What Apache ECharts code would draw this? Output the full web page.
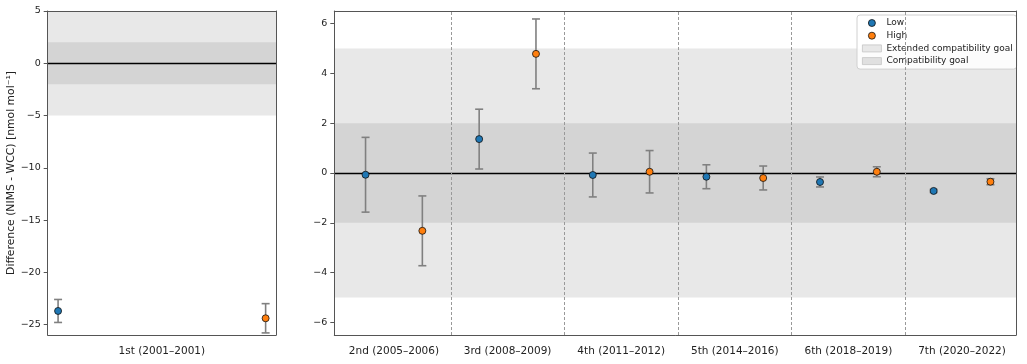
<!DOCTYPE html>
<html>
<head>
<meta charset="utf-8">
<script src="https://cdn.jsdelivr.net/npm/echarts@6/dist/echarts.min.js"></script>
<style>html,body{margin:0;padding:0;background:#fff}#c{width:1027px;height:364px}</style>
</head>
<body>
<div id="c"></div>
<script>
// ---- data ----
const categoriesLeft = ['1st (2001–2001)'];
const categoriesRight = ['2nd (2005–2006)', '3rd (2008–2009)', '4th (2011–2012)', '5th (2014–2016)', '6th (2018–2019)', '7th (2020–2022)'];
const lowLeft = [-23.7];
const lowLeftErr = [1.1];
const highLeft = [-24.4];
const highLeftErr = [1.4];
const lowRight = [-0.07, 1.36, -0.08, -0.15, -0.36, -0.72];
const lowRightErr = [1.5, 1.2, 0.88, 0.48, 0.2, 0.06];
const highRight = [-2.32, 4.78, 0.05, -0.2, 0.05, -0.35];
const highRightErr = [1.4, 1.4, 0.85, 0.48, 0.2, 0.12];
const leftTicks = [-25, -20, -15, -10, -5, 0, 5];
const rightTicks = [-6, -4, -2, 0, 2, 4, 6];
const extendedGoal = [-5, 5];
const compatGoal = [-2, 2];

const FONT = 'DejaVu Sans';
const LOW_C = '#1f77b4', HIGH_C = '#ff7f0e';
const OFF = 0.25;
const fmtNum = v => String(v).replace('-', '\u2212');

function pts(vals, sign) { return vals.map((v, i) => [i + sign * OFF, v]); }
function errPts(vals, errs, sign) { return vals.map((v, i) => [i + sign * OFF, v, errs[i]]); }

function errRender(params, api) {
  const x = api.value(0), y = api.value(1), e = api.value(2);
  const t = api.coord([x, y + e]), b = api.coord([x, y - e]);
  const hw = 4, st = { stroke: '#808080', lineWidth: 1.6 };
  return { type: 'group', children: [
    { type: 'line', shape: { x1: t[0], y1: t[1], x2: b[0], y2: b[1] }, style: st },
    { type: 'line', shape: { x1: t[0] - hw, y1: t[1], x2: t[0] + hw, y2: t[1] }, style: st },
    { type: 'line', shape: { x1: b[0] - hw, y1: b[1], x2: b[0] + hw, y2: b[1] }, style: st }
  ]};
}

function bandSeries(name, band, color, idx, z) {
  return { name: name, type: 'line', xAxisIndex: idx, yAxisIndex: idx, data: [], silent: true, z: z,
    itemStyle: { color: color },
    markArea: { silent: true, itemStyle: { color: color }, data: [[{ yAxis: band[0] }, { yAxis: band[1] }]] } };
}

function zeroLine(idx, seps) {
  const d = [{ yAxis: 0, lineStyle: { color: '#000', width: 1.4, type: 'solid' } }];
  seps.forEach(s => d.push({ xAxis: s, lineStyle: { color: '#999', width: 1, type: [3, 2] } }));
  return { type: 'line', xAxisIndex: idx, yAxisIndex: idx, data: [], silent: true, z: 3,
    markLine: { silent: true, symbol: 'none', label: { show: false }, data: d } };
}

const separators = categoriesRight.slice(1).map((c, i) => i + 0.5);

const axisCommon = {
  z: 10,
  axisLine: { show: true, onZero: false, lineStyle: { color: '#555', width: 1 } },
  splitLine: { show: false }
};

const option = {
  animation: false,
  backgroundColor: '#fff',
  textStyle: { fontFamily: FONT },
  grid: [
    { left: 47.7, top: 11, width: 228.3, height: 324, show: false },
    { left: 334.3, top: 11, width: 681.7, height: 324, show: false }
  ],
  xAxis: [
    Object.assign({}, axisCommon, { type: 'value', gridIndex: 0, min: -0.275, max: 0.275,
      axisTick: { show: false },
      axisLabel: { customValues: [0], margin: 11, fontSize: 10.5, color: '#222', fontFamily: FONT,
        formatter: v => categoriesLeft[Math.round(v)] } }),
    Object.assign({}, axisCommon, { type: 'value', gridIndex: 1, min: -0.525, max: 5.475,
      axisTick: { show: false },
      axisLabel: { customValues: [0, 1, 2, 3, 4, 5], margin: 11, fontSize: 10.5, color: '#222', fontFamily: FONT,
        formatter: v => categoriesRight[Math.round(v)] } }),
    Object.assign({}, axisCommon, { type: 'value', gridIndex: 0, position: 'top', min: -0.275, max: 0.275,
      axisTick: { show: false }, axisLabel: { show: false } }),
    Object.assign({}, axisCommon, { type: 'value', gridIndex: 1, position: 'top', min: -0.525, max: 5.475,
      axisTick: { show: false }, axisLabel: { show: false } })
  ],
  yAxis: [
    Object.assign({}, axisCommon, { type: 'value', gridIndex: 0, min: -26, max: 5,
      axisTick: { show: true, customValues: leftTicks, length: 4, lineStyle: { color: '#555' } },
      axisLabel: { customValues: leftTicks, margin: 7, fontSize: 9.5, color: '#222', fontFamily: FONT, formatter: fmtNum },
      name: 'Difference (NIMS - WCC) [nmol mol\u207B\u00B9]', nameLocation: 'middle', nameGap: 28,
      nameTextStyle: { fontSize: 10.8, color: '#222', fontFamily: FONT } }),
    Object.assign({}, axisCommon, { type: 'value', gridIndex: 1, min: -6.5, max: 6.5,
      axisTick: { show: true, customValues: rightTicks, length: 4, lineStyle: { color: '#555' } },
      axisLabel: { customValues: rightTicks, margin: 7, fontSize: 9.5, color: '#222', fontFamily: FONT, formatter: fmtNum } }),
    Object.assign({}, axisCommon, { type: 'value', gridIndex: 0, position: 'right', min: -26, max: 5,
      axisTick: { show: false }, axisLabel: { show: false } }),
    Object.assign({}, axisCommon, { type: 'value', gridIndex: 1, position: 'right', min: -6.5, max: 6.5,
      axisTick: { show: false }, axisLabel: { show: false } })
  ],
  legend: {
    orient: 'vertical', left: 857, top: 15, padding: [3, 4, 3, 5], itemGap: 2.7,
    itemWidth: 19, itemHeight: 7,
    backgroundColor: 'rgba(255,255,255,0.85)', borderColor: '#d0d0d0', borderWidth: 1, borderRadius: 3,
    textStyle: { fontSize: 9, color: '#222', fontFamily: FONT, lineHeight: 10 },
    selectedMode: false,
    data: [
      { name: 'Low', icon: 'circle', itemStyle: { color: LOW_C, borderColor: '#111', borderWidth: 0.8 } },
      { name: 'High', icon: 'circle', itemStyle: { color: HIGH_C, borderColor: '#111', borderWidth: 0.8 } },
      { name: 'Extended compatibility goal', icon: 'rect', itemStyle: { color: '#e8e8e8', borderColor: '#c4c4c4', borderWidth: 0.8 } },
      { name: 'Compatibility goal', icon: 'rect', itemStyle: { color: '#e0e0e0', borderColor: '#c4c4c4', borderWidth: 0.8 } }
    ]
  },
  series: [
    bandSeries('Extended compatibility goal', extendedGoal, '#e8e8e8', 0, 1),
    bandSeries('Compatibility goal', compatGoal, '#d4d4d4', 0, 1.5),
    bandSeries('Extended compatibility goal', extendedGoal, '#e8e8e8', 1, 1),
    bandSeries('Compatibility goal', compatGoal, '#d4d4d4', 1, 1.5),
    zeroLine(0, []),
    zeroLine(1, separators),
    { type: 'custom', xAxisIndex: 0, yAxisIndex: 0, z: 4, renderItem: errRender, data: errPts(lowLeft, lowLeftErr, -1), silent: true },
    { type: 'custom', xAxisIndex: 0, yAxisIndex: 0, z: 4, renderItem: errRender, data: errPts(highLeft, highLeftErr, 1), silent: true },
    { type: 'custom', xAxisIndex: 1, yAxisIndex: 1, z: 4, renderItem: errRender, data: errPts(lowRight, lowRightErr, -1), silent: true },
    { type: 'custom', xAxisIndex: 1, yAxisIndex: 1, z: 4, renderItem: errRender, data: errPts(highRight, highRightErr, 1), silent: true },
    { name: 'Low', type: 'scatter', xAxisIndex: 0, yAxisIndex: 0, z: 5, symbolSize: 7, data: pts(lowLeft, -1),
      itemStyle: { color: LOW_C, borderColor: '#111', borderWidth: 0.8, opacity: 1 } },
    { name: 'High', type: 'scatter', xAxisIndex: 0, yAxisIndex: 0, z: 5, symbolSize: 7, data: pts(highLeft, 1),
      itemStyle: { color: HIGH_C, borderColor: '#111', borderWidth: 0.8, opacity: 1 } },
    { name: 'Low', type: 'scatter', xAxisIndex: 1, yAxisIndex: 1, z: 5, symbolSize: 7, data: pts(lowRight, -1),
      itemStyle: { color: LOW_C, borderColor: '#111', borderWidth: 0.8, opacity: 1 } },
    { name: 'High', type: 'scatter', xAxisIndex: 1, yAxisIndex: 1, z: 5, symbolSize: 7, data: pts(highRight, 1),
      itemStyle: { color: HIGH_C, borderColor: '#111', borderWidth: 0.8, opacity: 1 } }
  ]
};

const chart = echarts.init(document.getElementById('c'), null, { renderer: 'canvas' });
chart.setOption(option);
</script>
</body>
</html>
